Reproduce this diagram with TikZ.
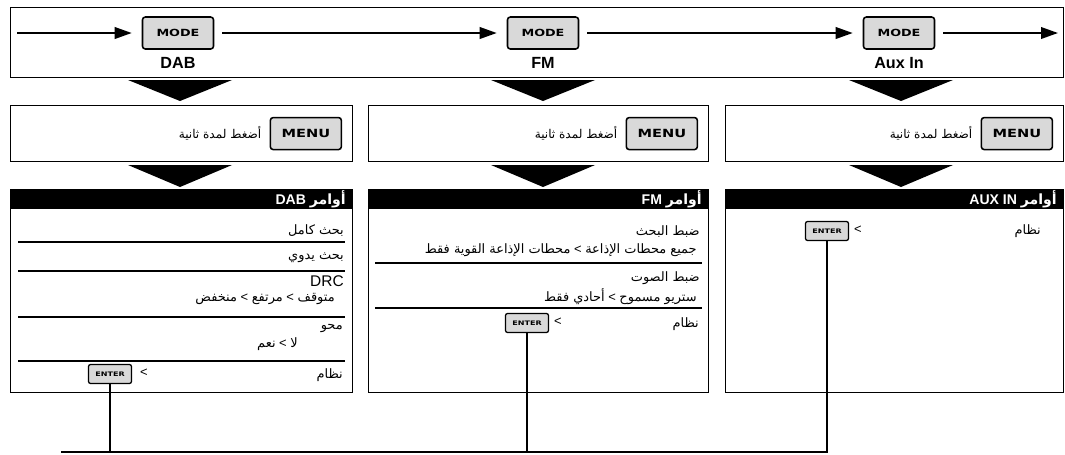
\documentclass[tikz,border=0pt]{standalone}
\usepackage{fontspec}
\usepackage{graphicx}
\setmainfont{Liberation Sans}
\newfontfamily\arabicfont[Script=Arabic]{DejaVu Sans}
\newfontfamily\keyfont{DejaVu Sans}
\TeXXeTstate=1
\usetikzlibrary{arrows.meta,positioning}

\newcommand\artxt[1]{{\arabicfont\beginR #1\endR}}
\newcommand\keylabel[2]{\scalebox{1.3}[1]{\keyfont\bfseries\fontsize{#1}{#1}\selectfont #2}}

\begin{document}
\begin{tikzpicture}[x=0.25mm, y=-0.25mm,
  frame/.style={draw, line width=0.8pt, inner sep=0pt, anchor=north west},
  hdr/.style={fill=black, inner sep=0pt, anchor=north west, minimum height=5mm},
  key/.style={draw, line width=1.1pt, rounded corners=2pt, fill=black!15, inner sep=0pt},
  bigkey/.style={key, minimum width=17.75mm, minimum height=8mm},
  enterkey/.style={key, line width=0.9pt, rounded corners=1.5pt, minimum width=10.75mm, minimum height=4.75mm},
  src/.style={inner sep=0pt, font=\fontsize{11.5}{13}\selectfont\bfseries},
  item/.style={anchor=east, inner sep=0pt, font=\fontsize{9.2}{11}\selectfont},
  title/.style={anchor=east, inner sep=0pt, text=white, font=\fontsize{10}{12}\selectfont\bfseries},
  sep/.style={line width=0.8pt},
  flow/.style={-{Triangle[length=4.25mm,width=2.9mm]}, line width=1.3pt},
  bus/.style={line width=1.7pt}
]
\useasboundingbox (0,0) rectangle (1065,454);

% mode band
\node[frame, minimum width=263.25mm, minimum height=17.5mm] (band) at (10,7) {};
\node[bigkey] (mD) at (178,33) {\keylabel{7}{MODE}};
\node[bigkey] (mF) at (543,33) {\keylabel{7}{MODE}};
\node[bigkey] (mA) at (899,33) {\keylabel{7}{MODE}};
\node[src] (lD) at (178,63) {DAB};
\node[src] (lF) at (543,63) {FM};
\node[src] (lA) at (899,63) {Aux In};
\coordinate (in) at (17,33);
\coordinate (out) at (1058,33);
\draw[flow, shorten >=2.5mm] (in) -- (mD);
\draw[flow, shorten <=2mm, shorten >=2.5mm] (mD) -- (mF);
\draw[flow, shorten <=2mm, shorten >=2.5mm] (mF) -- (mA);
\draw[flow, shorten <=2mm] (mA) -- (out);

% big down arrows
\foreach \cx in {180,543,901} {
  \fill (\cx-52,80) -- (\cx+52,80) -- (\cx,101) -- cycle;
  \fill (\cx-52,165) -- (\cx+52,165) -- (\cx,187) -- cycle;
}

% press MENU
\node[frame, minimum width=85.5mm, minimum height=14mm] (bD) at (10,105) {};
\node[frame, minimum width=85mm, minimum height=14mm] (bF) at (368,105) {};
\node[frame, minimum width=84.5mm, minimum height=14mm] (bA) at (725,105) {};
\node[bigkey, anchor=east] (kD) at ([xshift=-2.75mm]bD.east) {\keylabel{8}{MENU}};
\node[bigkey, anchor=east] (kF) at ([xshift=-2.75mm]bF.east) {\keylabel{8}{MENU}};
\node[bigkey, anchor=east] (kA) at ([xshift=-2.75mm]bA.east) {\keylabel{8}{MENU}};
\node[item, font=\fontsize{8.6}{10}\selectfont, left=2mm of kD] (pD) {\artxt{أضغط لمدة ثانية}};
\node[item, font=\fontsize{8.6}{10}\selectfont, left=2mm of kF] (pF) {\artxt{أضغط لمدة ثانية}};
\node[item, font=\fontsize{8.6}{10}\selectfont, left=2mm of kA] (pA) {\artxt{أضغط لمدة ثانية}};

% DAB panel
\node[frame, minimum width=85.5mm, minimum height=50.75mm] (panD) at (10,189) {};
\node[hdr, minimum width=85.5mm] (hD) at (10,189) {};
\node[title] (tD) at (346,199) {DAB \artxt{أوامر}};
\node[item] (d1) at (344,231) {\artxt{بحث كامل}};
\draw[sep] (18,242) -- (345,242);
\node[item] (d2) at (344,258) {\artxt{بحث يدوي}};
\draw[sep] (18,271) -- (345,271);
\node[item, font=\fontsize{11}{13}\selectfont] (d3) at (344,281) {DRC};
\node[item] (d3v) at (335,299) {\artxt{منخفض} < \artxt{مرتفع} < \artxt{متوقف}};
\draw[sep] (18,317) -- (345,317);
\node[item] (d4) at (343,328) {\artxt{محو}};
\node[item] (d4v) at (298,344) {\artxt{نعم} < \artxt{لا}};
\draw[sep] (18,361) -- (345,361);
\node[item] (d5) at (343,375) {\artxt{نظام}};
\node[enterkey] (eD) at (110,374) {\keylabel{4.4}{ENTER}};
\node[item, anchor=center] (gD) at (144,373) {<};

% FM panel
\node[frame, minimum width=85mm, minimum height=50.75mm] (panF) at (368,189) {};
\node[hdr, minimum width=85mm] (hF) at (368,189) {};
\node[title] (tF) at (702,199) {FM \artxt{أوامر}};
\node[item] (f1) at (700,232) {\artxt{ضبط البحث}};
\node[item] (f1v) at (697,250) {\artxt{محطات الإذاعة القوية فقط} < \artxt{جميع محطات الإذاعة}};
\draw[sep] (375,263) -- (702,263);
\node[item] (f2) at (700,278) {\artxt{ضبط الصوت}};
\node[item] (f2v) at (697,297) {\artxt{أحادي فقط} < \artxt{ستريو مسموح}};
\draw[sep] (375,308) -- (702,308);
\node[item] (f3) at (699,324) {\artxt{نظام}};
\node[enterkey] (eF) at (527,323) {\keylabel{4.4}{ENTER}};
\node[item, anchor=center] (gF) at (558,322) {<};

% AUX IN panel
\node[frame, minimum width=84.5mm, minimum height=50.75mm] (panA) at (725,189) {};
\node[hdr, minimum width=84.5mm] (hA) at (725,189) {};
\node[title] (tA) at (1057,199) {AUX IN \artxt{أوامر}};
\node[item] (a1) at (1041,231) {\artxt{نظام}};
\node[enterkey] (eA) at (827,231) {\keylabel{4.4}{ENTER}};
\node[item, anchor=center] (gA) at (858,230) {<};

% ENTER leads
\coordinate (busL) at (61,452);
\draw[bus] (busL) -| (eA.south);
\draw[bus] (eD.south) -- (eD.south |- busL);
\draw[bus] (eF.south) -- (eF.south |- busL);
\end{tikzpicture}
\end{document}
